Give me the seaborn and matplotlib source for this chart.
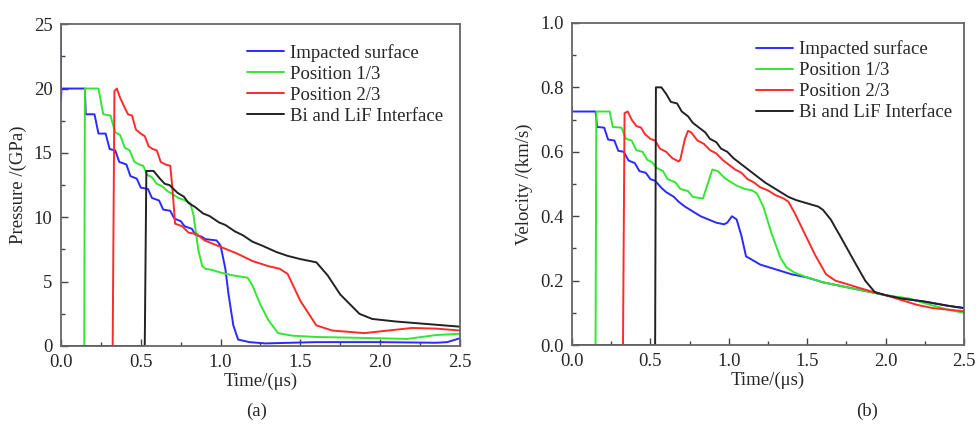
import matplotlib
matplotlib.use("Agg")
import matplotlib.pyplot as plt
from matplotlib.ticker import MultipleLocator
import seaborn as sns

# ---- data ----
series_names = ["Impacted surface", "Position 1/3", "Position 2/3", "Bi and LiF Interface"]
series_colors = ["#2a2aff", "#33e633", "#ff2a2a", "#222222"]

# (a) pressure, GPa
p_blue_t = [0.0, 0.0, 0.003, 0.15, 0.155, 0.21, 0.235, 0.28, 0.305, 0.34, 0.365, 0.41, 0.435, 0.475,
            0.50, 0.545, 0.57, 0.615, 0.64, 0.685, 0.71, 0.75, 0.775, 0.82, 0.845, 0.88, 0.905, 0.975,
            1.0, 1.03, 1.05, 1.08, 1.11, 1.18, 1.28, 1.6, 2.0, 2.35, 2.42, 2.5]
p_blue_v = [25.0, 19.0, 20.0, 20.0, 18.0, 18.0, 16.5, 16.5, 15.3, 15.2, 14.3, 14.1, 13.2, 13.0,
            12.3, 12.2, 11.5, 11.3, 10.6, 10.5, 9.9, 9.7, 9.3, 9.1, 8.6, 8.5, 8.3, 8.2,
            7.8, 6.0, 4.0, 1.6, 0.5, 0.3, 0.2, 0.3, 0.3, 0.25, 0.3, 0.6]

p_green_t = [0.0, 0.146, 0.15, 0.235, 0.265, 0.31, 0.34, 0.37, 0.40, 0.43, 0.46, 0.49, 0.515, 0.54,
             0.57, 0.60, 0.635, 0.67, 0.70, 0.735, 0.76, 0.81, 0.83, 0.86, 0.885, 0.905, 0.95, 1.0,
             1.07, 1.17, 1.2, 1.25, 1.3, 1.36, 1.45, 1.6, 2.0, 2.17, 2.35, 2.5]
p_green_v = [0.0, 0.0, 20.0, 20.0, 18.0, 17.9, 16.6, 16.4, 15.4, 15.2, 14.3, 14.1, 14.0, 13.3,
             13.1, 12.6, 12.4, 12.0, 11.8, 11.5, 11.4, 11.1, 10.2, 7.5, 6.2, 6.0, 5.9, 5.7,
             5.5, 5.3, 4.7, 3.2, 2.0, 1.0, 0.8, 0.7, 0.6, 0.55, 0.85, 0.95]

p_red_t = [0.0, 0.324, 0.335, 0.35, 0.37, 0.40, 0.42, 0.445, 0.47, 0.50, 0.525, 0.55, 0.575, 0.60,
           0.625, 0.655, 0.685, 0.70, 0.715, 0.76, 0.80, 0.85, 0.90, 1.0, 1.1, 1.2, 1.3, 1.37,
           1.42, 1.5, 1.6, 1.7, 1.9, 2.05, 2.2, 2.35, 2.5]
p_red_v = [0.0, 0.0, 19.8, 20.0, 19.3, 18.5, 18.0, 17.9, 16.8, 16.5, 16.3, 15.5, 15.3, 15.2,
           14.3, 14.1, 14.0, 12.0, 9.5, 9.3, 8.8, 8.7, 8.2, 7.7, 7.2, 6.6, 6.2, 6.0,
           5.6, 3.5, 1.6, 1.2, 1.0, 1.2, 1.4, 1.35, 1.2]

p_black_t = [0.0, 0.525, 0.535, 0.58, 0.62, 0.65, 0.68, 0.73, 0.77, 0.80, 0.84, 0.89, 0.93, 0.99,
             1.03, 1.09, 1.14, 1.2, 1.26, 1.35, 1.42, 1.5, 1.6, 1.67, 1.75, 1.87, 1.95, 2.1, 2.3, 2.5]
p_black_v = [0.0, 0.0, 13.6, 13.6, 13.0, 12.6, 12.5, 11.9, 11.6, 11.1, 10.8, 10.3, 10.1, 9.6,
             9.4, 8.9, 8.6, 8.1, 7.8, 7.3, 7.0, 6.75, 6.5, 5.5, 4.0, 2.5, 2.1, 1.9, 1.7, 1.5]

# (b) velocity, km/s
v_blue_t = [0.0, 0.0, 0.01, 0.15, 0.16, 0.205, 0.23, 0.27, 0.295, 0.33, 0.36, 0.40, 0.43, 0.47,
            0.50, 0.53, 0.57, 0.60, 0.65, 0.68, 0.72, 0.76, 0.82, 0.86, 0.92, 0.97, 0.99, 1.02,
            1.05, 1.08, 1.11, 1.13, 1.2, 1.3, 1.4, 1.5, 1.6, 1.75, 1.9, 2.0, 2.1, 2.25, 2.4, 2.5]
v_blue_v = [0.74, 0.725, 0.725, 0.725, 0.677, 0.675, 0.638, 0.635, 0.603, 0.60, 0.573, 0.565, 0.54, 0.535,
            0.515, 0.51, 0.488, 0.475, 0.46, 0.445, 0.43, 0.418, 0.40, 0.392, 0.38, 0.375, 0.38, 0.40,
            0.39, 0.34, 0.275, 0.27, 0.25, 0.235, 0.22, 0.21, 0.195, 0.18, 0.165, 0.155, 0.145, 0.135,
            0.122, 0.115]

v_green_t = [0.0, 0.15, 0.155, 0.24, 0.26, 0.315, 0.345, 0.38, 0.41, 0.45, 0.48, 0.51, 0.54, 0.58,
             0.61, 0.66, 0.69, 0.74, 0.77, 0.835, 0.865, 0.895, 0.93, 0.97, 1.0, 1.05, 1.1, 1.15,
             1.18, 1.22, 1.27, 1.33, 1.37, 1.42, 1.5, 1.6, 1.75, 1.9, 2.0, 2.15, 2.25, 2.4, 2.5]
v_green_v = [0.0, 0.0, 0.725, 0.725, 0.677, 0.675, 0.64, 0.635, 0.605, 0.60, 0.575, 0.568, 0.55, 0.54,
             0.515, 0.505, 0.485, 0.478, 0.46, 0.455, 0.50, 0.545, 0.54, 0.52, 0.51, 0.495, 0.485, 0.48,
             0.47, 0.43, 0.35, 0.27, 0.24, 0.225, 0.21, 0.195, 0.18, 0.165, 0.155, 0.145, 0.13, 0.11, 0.10]

v_red_t = [0.0, 0.325, 0.335, 0.355, 0.38, 0.41, 0.44, 0.465, 0.50, 0.53, 0.56, 0.60, 0.64, 0.68,
           0.69, 0.72, 0.74, 0.76, 0.80, 0.84, 0.88, 0.92, 0.96, 1.0, 1.04, 1.08, 1.12, 1.16, 1.2,
           1.25, 1.3, 1.35, 1.38, 1.42, 1.48, 1.55, 1.62, 1.68, 1.75, 1.85, 1.92, 2.0, 2.1, 2.2, 2.3, 2.5]
v_red_v = [0.0, 0.0, 0.72, 0.725, 0.70, 0.68, 0.675, 0.655, 0.64, 0.635, 0.61, 0.60, 0.58, 0.57,
           0.575, 0.64, 0.665, 0.66, 0.635, 0.625, 0.605, 0.595, 0.575, 0.56, 0.545, 0.535, 0.515, 0.505,
           0.49, 0.48, 0.465, 0.455, 0.445, 0.41, 0.35, 0.28, 0.22, 0.20, 0.19, 0.175, 0.165, 0.155,
           0.14, 0.125, 0.115, 0.105]

v_black_t = [0.0, 0.53, 0.535, 0.57, 0.60, 0.63, 0.67, 0.70, 0.74, 0.77, 0.81, 0.85, 0.88, 0.92,
             0.95, 0.99, 1.03, 1.07, 1.11, 1.15, 1.19, 1.23, 1.28, 1.33, 1.38, 1.43, 1.5, 1.57,
             1.6, 1.65, 1.72, 1.8, 1.87, 1.93, 2.0, 2.1, 2.25, 2.4, 2.5]
v_black_v = [0.0, 0.0, 0.80, 0.80, 0.78, 0.755, 0.75, 0.725, 0.71, 0.69, 0.675, 0.66, 0.64, 0.63,
             0.61, 0.60, 0.58, 0.565, 0.55, 0.535, 0.52, 0.505, 0.49, 0.475, 0.46, 0.45, 0.44, 0.43,
             0.42, 0.39, 0.33, 0.26, 0.20, 0.165, 0.155, 0.145, 0.135, 0.122, 0.115]

pressure = [(p_blue_t, p_blue_v), (p_green_t, p_green_v), (p_red_t, p_red_v), (p_black_t, p_black_v)]
velocity = [(v_blue_t, v_blue_v), (v_green_t, v_green_v), (v_red_t, v_red_v), (v_black_t, v_black_v)]

sns.set_theme(style="white")
plt.rcParams["font.family"] = ["Liberation Serif", "DejaVu Serif"]
FS = 13.5

fig = plt.figure(figsize=(9.77, 4.24), dpi=100)
ax_a = fig.add_axes([0.0624, 0.184, 0.4084, 0.759])
ax_b = fig.add_axes([0.5855, 0.186, 0.4012, 0.760])


def draw_panel(ax, data, ylim, ymajor, yfmt, ylabel, leg_anchor):
    for (t, v), name, col in zip(data, series_names, series_colors):
        sns.lineplot(x=t, y=v, ax=ax, color=col, label=name, sort=False,
                     estimator=None, lw=1.4)
    ax.set_xlim(0, 2.5)
    ax.set_ylim(*ylim)
    ax.xaxis.set_major_locator(MultipleLocator(0.5))
    ax.xaxis.set_minor_locator(MultipleLocator(0.25))
    ax.yaxis.set_major_locator(MultipleLocator(ymajor))
    ax.yaxis.set_minor_locator(MultipleLocator(ymajor / 2))
    ax.yaxis.set_major_formatter(yfmt)
    ax.xaxis.set_major_formatter("{x:.1f}")
    ax.tick_params(which="both", direction="in", left=True, bottom=True, top=False, right=False,
                   color="#444444", labelsize=FS, pad=6)
    ax.tick_params(which="major", length=5, width=1)
    ax.tick_params(which="minor", length=3, width=1)
    for s in ax.spines.values():
        s.set_color("#666666")
        s.set_linewidth(1.3)
    ax.set_xlabel("Time/(\u03bcs)", fontsize=FS, labelpad=1)
    ax.set_ylabel(ylabel, fontsize=FS, labelpad=5)
    ax.legend(loc="upper left", bbox_to_anchor=leg_anchor, frameon=False, fontsize=FS,
              handlelength=2.0, handletextpad=0.3, labelspacing=0.2, borderpad=0,
              borderaxespad=0)


draw_panel(ax_a, pressure, (0, 25), 5, "{x:.0f}", "Pressure /(GPa)", (0.466, 0.938))
draw_panel(ax_b, velocity, (0, 1.0), 0.2, "{x:.1f}", "Velocity /(km/s)", (0.469, 0.945))

fig.text(257 / 977, 1 - 411 / 424, "(a)", ha="center", va="center", fontsize=FS)
fig.text(867 / 977, 1 - 411 / 424, "(b)", ha="center", va="center", fontsize=FS)

fig.savefig("out.png", dpi=100, facecolor="white")
